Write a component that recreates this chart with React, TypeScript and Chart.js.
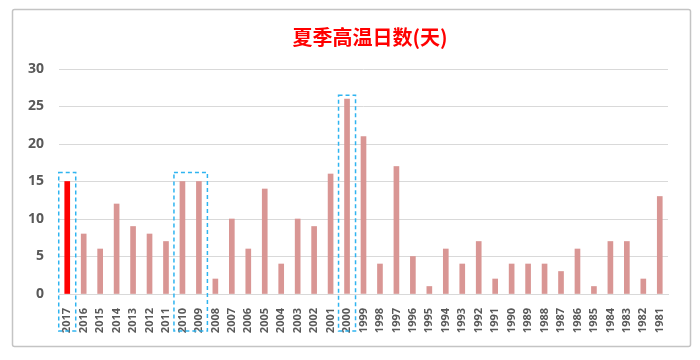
import React, { useEffect, useRef } from "react";
import { Chart, registerables } from "chart.js";

Chart.register(...registerables);

const years = [
  "2017", "2016", "2015", "2014", "2013", "2012", "2011", "2010", "2009", "2008",
  "2007", "2006", "2005", "2004", "2003", "2002", "2001", "2000", "1999", "1998",
  "1997", "1996", "1995", "1994", "1993", "1992", "1991", "1990", "1989", "1988",
  "1987", "1986", "1985", "1984", "1983", "1982", "1981",
];
const hotDays = [
  15, 8, 6, 12, 9, 8, 7, 15, 15, 2,
  10, 6, 14, 4, 10, 9, 16, 26, 21, 4,
  17, 5, 1, 6, 4, 7, 2, 4, 4, 4,
  3, 6, 1, 7, 7, 2, 13,
];
const highlightYear = "2017";
const titleText = "夏季高温日数(天)";
const yTicks = [0, 5, 10, 15, 20, 25, 30];
const boxes = [
  { from: "2017", to: "2017", top: 16.2 },
  { from: "2010", to: "2009", top: 16.2 },
  { from: "2000", to: "2000", top: 26.5 },
];

const decorPlugin = {
  id: "decor",
  beforeDraw(chart: any) {
    const ctx = chart.ctx;
    ctx.save();
    ctx.fillStyle = "#ffffff";
    ctx.fillRect(0, 0, chart.width, chart.height);
    ctx.strokeStyle = "#c4c4c4";
    ctx.lineWidth = 1.5;
    ctx.beginPath();
    ctx.roundRect(12.5, 9.5, 678, 337, 2);
    ctx.stroke();
    ctx.fillStyle = "#ff0000";
    ctx.font = "bold 20px 'Noto Sans CJK SC', sans-serif";
    ctx.textAlign = "center";
    ctx.textBaseline = "middle";
    ctx.fillText(titleText, 370, 37);
    ctx.restore();
  },
  afterDraw(chart: any) {
    const ctx = chart.ctx;
    const x = chart.scales.x;
    const y = chart.scales.y;
    ctx.save();
    ctx.strokeStyle = "#2fb4f0";
    ctx.lineWidth = 1.5;
    ctx.setLineDash([4, 3]);
    boxes.forEach((b) => {
      const i0 = years.indexOf(b.from);
      const i1 = years.indexOf(b.to);
      const left = x.getPixelForValue(i0) - 8.5;
      const right = x.getPixelForValue(i1) + 8.5;
      const top = y.getPixelForValue(b.top);
      const bottom = chart.chartArea.bottom + 37;
      ctx.strokeRect(left, top, right - left, bottom - top);
    });
    ctx.restore();
  },
};

export default function App() {
  const ref = useRef<HTMLCanvasElement>(null);
  useEffect(() => {
    if (!ref.current) return;
    const chart = new Chart(ref.current, {
      type: "bar",
      data: {
        labels: years,
        datasets: [
          {
            data: hotDays,
            backgroundColor: years.map((yr) => (yr === highlightYear ? "#ff0000" : "#d99694")),
            barThickness: 5,
          },
        ],
      },
      options: {
        animation: false,
        responsive: false,
        layout: { padding: { left: 12, right: 32, top: 69, bottom: 20 } },
        plugins: { legend: { display: false }, title: { display: false }, tooltip: { enabled: false } },
        scales: {
          x: {
            grid: { display: false },
            border: { display: true, color: "#d9d9d9", width: 1 },
            ticks: {
              minRotation: 90,
              maxRotation: 90,
              autoSkip: false,
              padding: 6,
              color: "#595959",
              font: { size: 11, weight: "bold", family: "'Open Sans', 'DejaVu Sans', sans-serif" },
            },
            afterFit: (s: any) => { s.height = 46; },
          },
          y: {
            min: 0,
            max: 30,
            afterBuildTicks: (s: any) => { s.ticks = yTicks.map((v) => ({ value: v })); },
            grid: { color: "#d9d9d9", lineWidth: 1, drawTicks: false },
            border: { display: false },
            ticks: {
              padding: 15,
              color: "#595959",
              font: { size: 14, weight: "bold", family: "'Open Sans', 'DejaVu Sans', sans-serif" },
            },
            afterFit: (s: any) => { s.width = 47; },
          },
        },
      },
      plugins: [decorPlugin],
    });
    return () => chart.destroy();
  }, []);
  return (
    <div style={{ position: "fixed", left: 0, top: 0, width: 700, height: 360 }}>
      <canvas ref={ref} width={700} height={360} />
    </div>
  );
}
